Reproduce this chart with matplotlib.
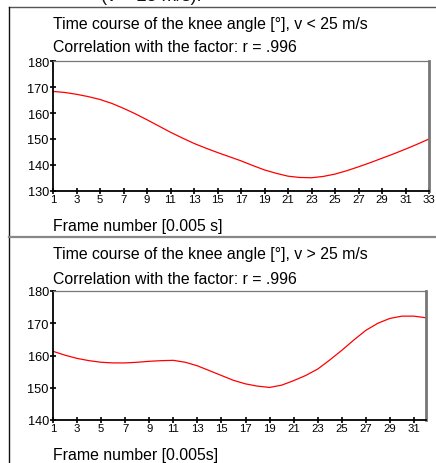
import matplotlib
matplotlib.use("Agg")
import matplotlib.pyplot as plt
from matplotlib.lines import Line2D

plt.rcParams['font.family'] = ['Liberation Sans', 'DejaVu Sans']

# ---- data ----
frames_top = list(range(1, 34))
angle_top = [168.3, 167.9, 167.2, 166.3, 165.2, 163.7, 161.8, 159.7, 157.4, 155.0,
             152.6, 150.4, 148.3, 146.5, 144.8, 143.2, 141.6, 139.8, 138.1, 136.8,
             135.7, 135.2, 135.1, 135.6, 136.5, 137.8, 139.3, 140.9, 142.6, 144.3,
             146.1, 148.0, 150.0]
frames_bot = list(range(1, 33))
angle_bot = [161.3, 160.1, 159.1, 158.4, 157.9, 157.7, 157.7, 157.9, 158.2, 158.4,
             158.5, 157.9, 156.8, 155.3, 153.8, 152.3, 151.2, 150.5, 150.1, 150.8,
             152.2, 153.8, 155.8, 158.6, 161.6, 164.8, 167.8, 170.0, 171.5, 172.2,
             172.2, 171.7]
xticks_top = list(range(1, 34, 2))
xticks_bot = list(range(1, 32, 2))
yticks_top = [130, 140, 150, 160, 170, 180]
yticks_bot = [140, 150, 160, 170, 180]
title_top = ["Time course of the knee angle [°], v < 25 m/s",
             "Correlation with the factor: r = .996"]
title_bot = ["Time course of the knee angle [°], v > 25 m/s",
             "Correlation with the factor: r = .996"]
xlabel_top = "Frame number [0.005 s]"
xlabel_bot = "Frame number [0.005s]"
heading = "(v < 25 m/s)."

W, H = 436, 464
fig = plt.figure(figsize=(W / 100, H / 100), dpi=100)

def fx(px):
    return px / W

def fy(py):
    return 1 - py / H

def make_axes(left, right, top, bottom, x, y, xticks, yticks, xlim, ylim):
    ax = fig.add_axes([fx(left), fy(bottom), fx(right) - fx(left), fy(top) - fy(bottom)])
    ax.plot(x, y, color='#ff0000', linewidth=0.9)
    ax.set_xlim(*xlim)
    ax.set_ylim(*ylim)
    ax.set_xticks(xticks)
    ax.set_yticks(yticks)
    ax.tick_params(axis='both', direction='inout', length=4, width=1.2, color='black', pad=1)
    ax.tick_params(axis='y', labelsize=9.2)
    ax.tick_params(axis='x', labelsize=8.2, pad=0)
    ax.spines['left'].set_color('black')
    ax.spines['left'].set_linewidth(1.3)
    ax.spines['bottom'].set_color('black')
    ax.spines['bottom'].set_linewidth(1.3)
    ax.spines['top'].set_color('#777777')
    ax.spines['top'].set_linewidth(0.9)
    ax.spines['right'].set_color('#777777')
    ax.spines['right'].set_linewidth(2.0)
    return ax

ax1 = make_axes(53, 429, 62, 192, frames_top, angle_top, xticks_top, yticks_top, (1, 33), (130, 180))
ax2 = make_axes(53, 426, 292, 421, frames_bot, angle_bot, xticks_bot, yticks_bot, (1, 32), (140, 180))

fs = 11.4
fig.text(fx(53), fy(24), title_top[0], fontsize=fs, va='center', ha='left')
fig.text(fx(53), fy(48), title_top[1], fontsize=fs, va='center', ha='left')
fig.text(fx(53), fy(227), xlabel_top, fontsize=fs, va='center', ha='left')
fig.text(fx(53), fy(255), title_bot[0], fontsize=fs, va='center', ha='left')
fig.text(fx(53), fy(279), title_bot[1], fontsize=fs, va='center', ha='left')
fig.text(fx(53), fy(456), xlabel_bot, fontsize=fs, va='center', ha='left')

# cut-off heading at very top (partly outside the image, as in the reference)
fig.text(fx(101), fy(1), heading, fontsize=13, va='baseline', ha='left', color='#111111')

# frame lines
fig.add_artist(Line2D([fx(9), 1.0], [fy(8), fy(8)], color='#555555', linewidth=1.0))
fig.add_artist(Line2D([fx(9), fx(9)], [fy(8), 0.0], color='#111111', linewidth=1.0))
fig.add_artist(Line2D([fx(9), 1.0], [fy(238), fy(238)], color='#888888', linewidth=1.6))

fig.savefig("out.png", dpi=100)
